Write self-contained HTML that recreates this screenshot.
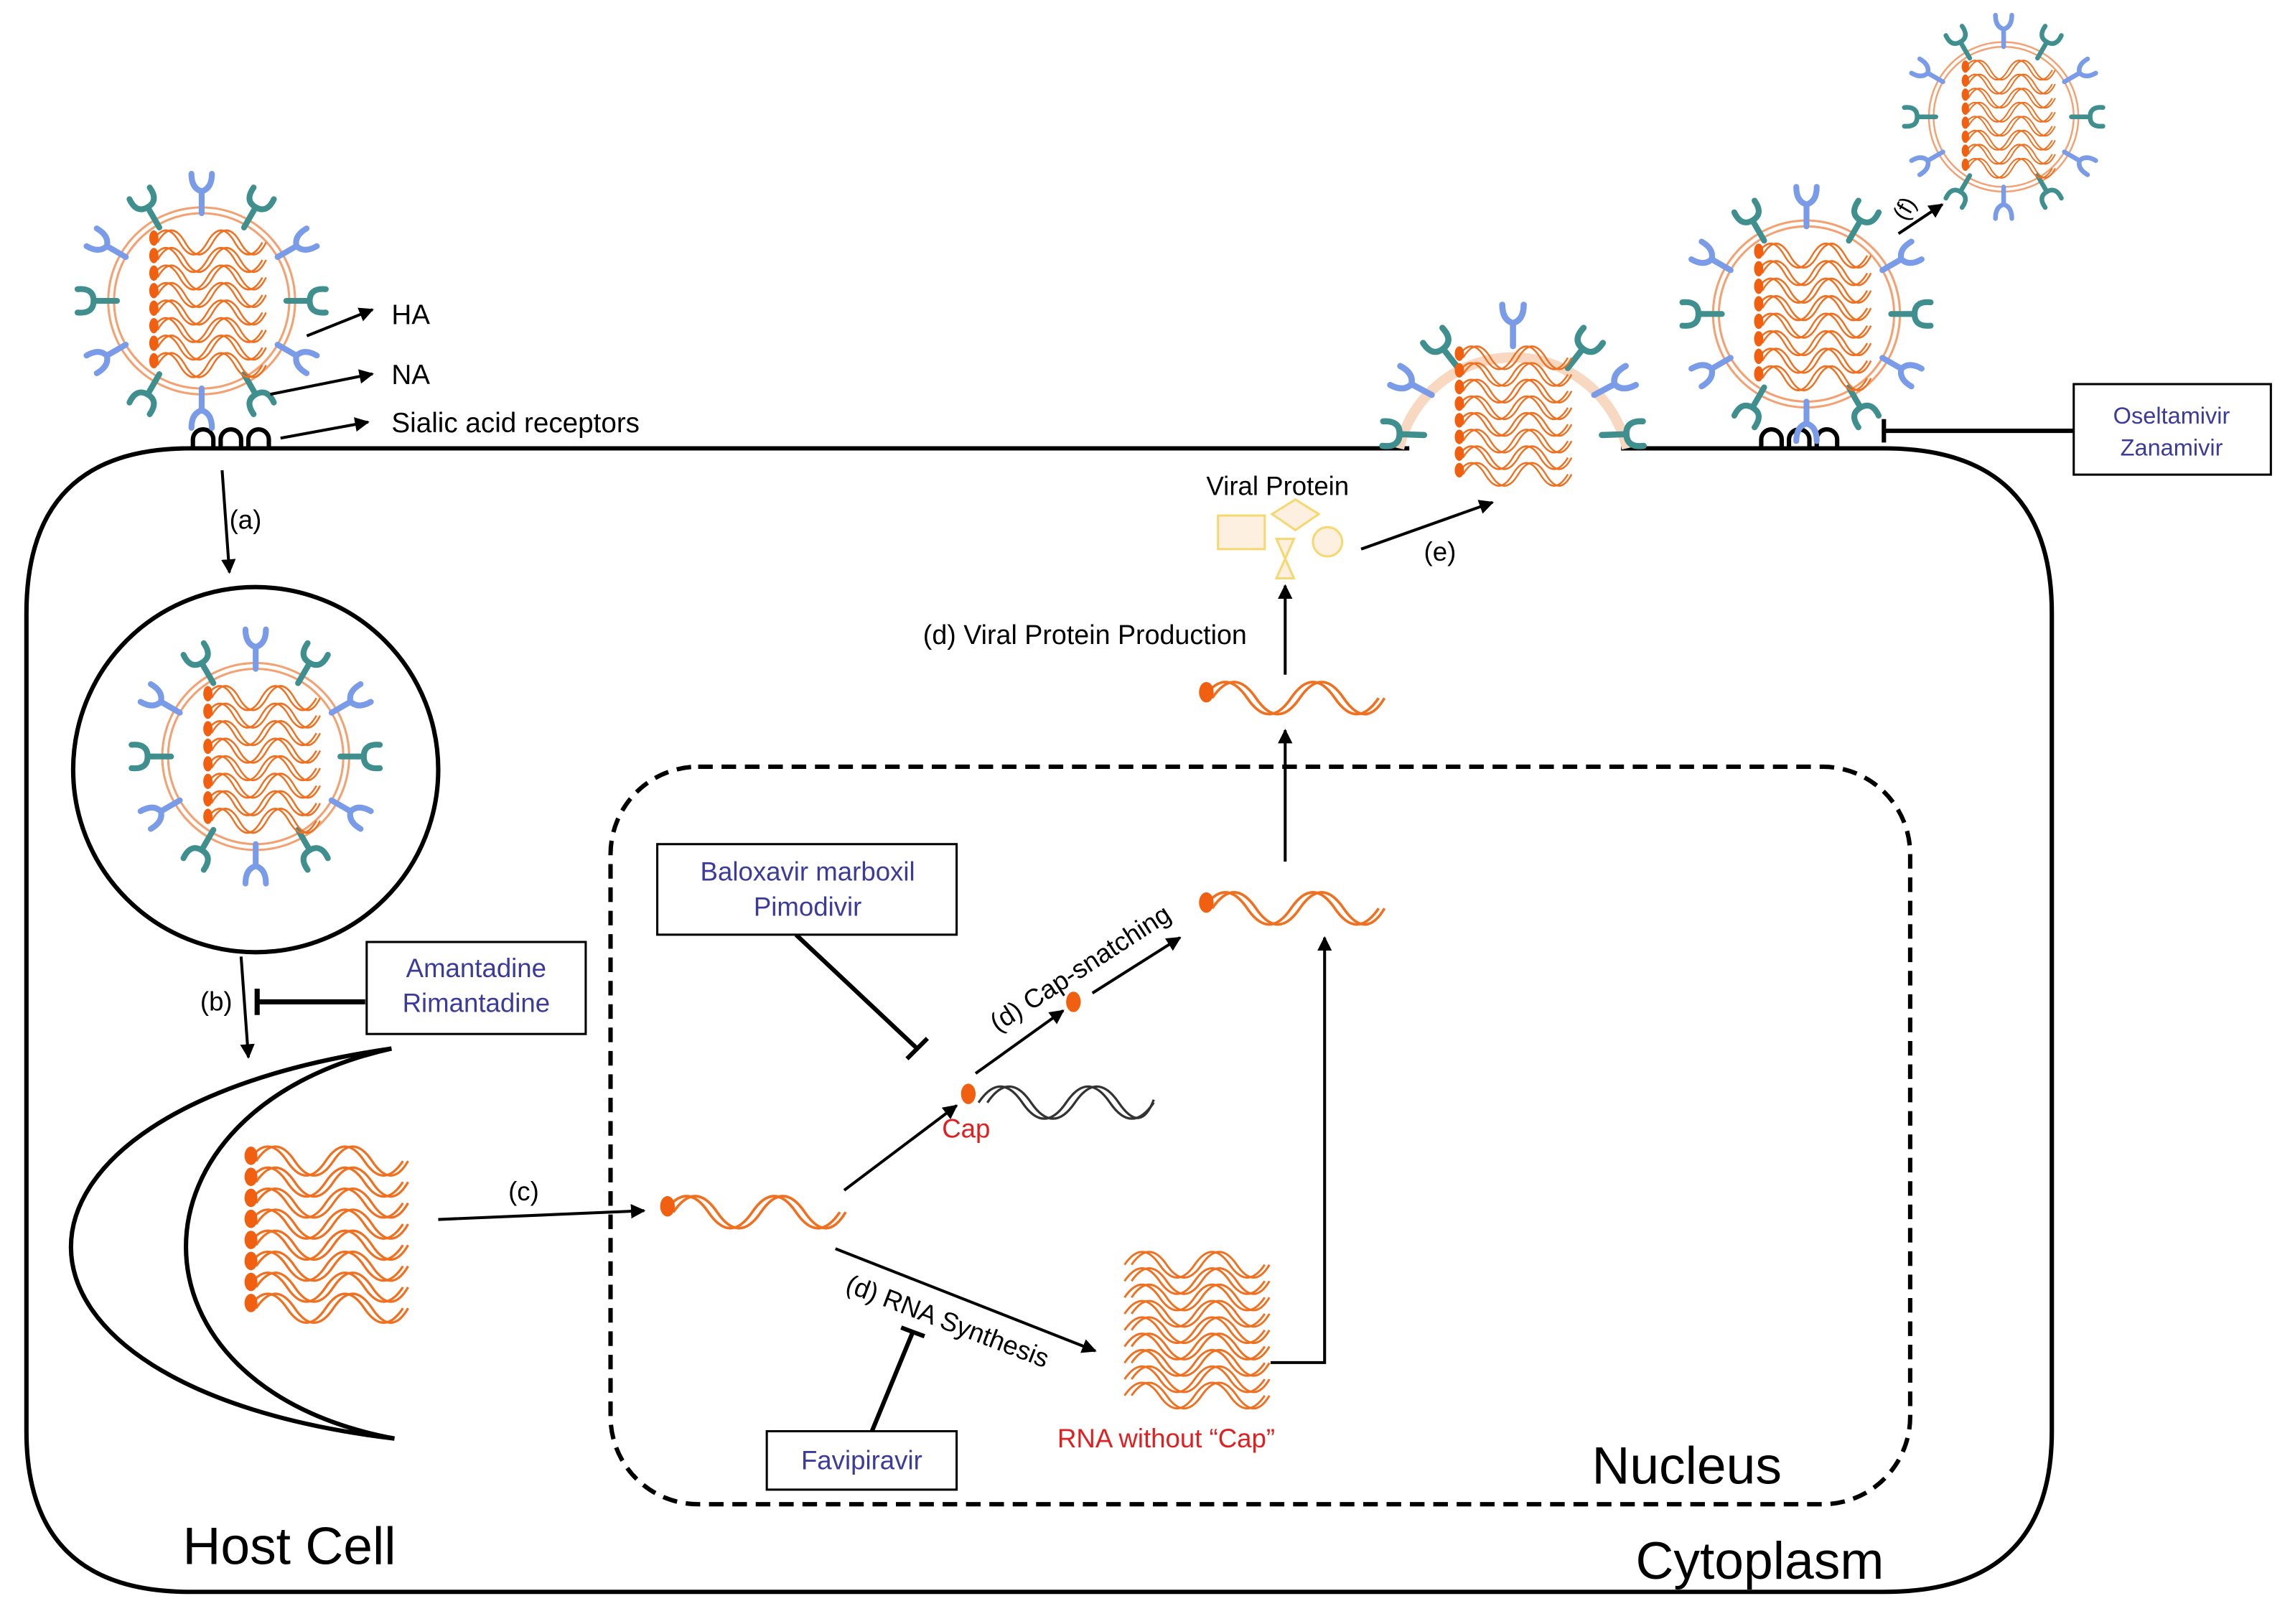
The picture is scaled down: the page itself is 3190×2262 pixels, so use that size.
<!DOCTYPE html>
<html><head><meta charset="utf-8"><style>
html,body{margin:0;padding:0;background:#fff}
svg{display:block}
text{font-family:"Liberation Sans",Arial,sans-serif}
</style></head><body>
<svg width="3190" height="2262" viewBox="0 0 1568 1112" xmlns="http://www.w3.org/2000/svg">
<defs>
<marker id="ar" markerWidth="10" markerHeight="10" refX="9" refY="5" orient="auto" markerUnits="userSpaceOnUse">
<path d="M0,0 L10,5 L0,10 z" fill="#000"/></marker>
<g id="strand" fill="none" stroke="#f07020" stroke-width="1.8">
<path d="M0 0 Q15 -22 30 0 T60 0 T90 0 T120 0"/>
<path d="M6 0 Q21 -22 36 0 T66 0 T96 0 T124 0"/>
</g>
<g id="cstrand"><use href="#strand"/><ellipse cx="2" cy="-4" rx="5" ry="7" fill="#f06010"/></g>
<g id="bundle">
<g transform="scale(0.63 0.75)">
<use href="#cstrand" y="0"/><use href="#cstrand" y="16"/><use href="#cstrand" y="32"/><use href="#cstrand" y="48"/>
<use href="#cstrand" y="64"/><use href="#cstrand" y="80"/><use href="#cstrand" y="96"/><use href="#cstrand" y="112"/>
</g></g>
<g id="tspike" stroke="#3f8f8f" stroke-width="4" fill="none" stroke-linecap="round">
<line x1="0" y1="-58" x2="0" y2="-74"/><path d="M-8,-85 Q-9,-74 0,-74 Q9,-74 8,-85"/></g>
<g id="bspike" stroke="#7a9be8" stroke-width="4" fill="none" stroke-linecap="round">
<line x1="0" y1="-60" x2="0" y2="-75"/><path d="M-7,-87 Q-7,-77 0,-75 Q7,-77 7,-87"/></g>
<g id="virus">
<circle r="60" fill="none" stroke="#f4a070" stroke-width="1.5"/>
<circle r="64" fill="none" stroke="#f4a070" stroke-width="1.5"/>
<use href="#bspike"/><use href="#tspike" transform="rotate(30)"/><use href="#bspike" transform="rotate(60)"/>
<use href="#tspike" transform="rotate(90)"/><use href="#bspike" transform="rotate(120)"/><use href="#tspike" transform="rotate(150)"/>
<use href="#bspike" transform="rotate(180)"/><use href="#tspike" transform="rotate(210)"/><use href="#bspike" transform="rotate(240)"/>
<use href="#tspike" transform="rotate(270)"/><use href="#bspike" transform="rotate(300)"/><use href="#tspike" transform="rotate(330)"/>
<use href="#bundle" x="-34" y="-40"/>
</g>
</defs>

<path d="M965 307 L130 307 Q18 307 18 420 L18 980 Q18 1090 130 1090 L1290 1090 Q1405 1090 1405 980 L1405 420 Q1405 307 1290 307 L1110 307" fill="none" stroke="#000" stroke-width="3"/>
<g fill="none" stroke="#000" stroke-width="3">
<path d="M132 307 v-6 a7 7 0 0 1 14 0 v6 M151 307 v-6 a7 7 0 0 1 14 0 v6 M170 307 v-6 a7 7 0 0 1 14 0 v6"/>
<path d="M1206 307 v-6 a7 7 0 0 1 14 0 v6 M1225 307 v-6 a7 7 0 0 1 14 0 v6 M1244 307 v-6 a7 7 0 0 1 14 0 v6"/>
</g>
<use href="#virus" x="138" y="206"/>
<g stroke="#000" stroke-width="2" marker-end="url(#ar)">
<line x1="210" y1="230" x2="255" y2="212"/>
<line x1="185" y1="270" x2="255" y2="256"/>
<line x1="192" y1="300" x2="252" y2="289"/>
</g>
<text x="268" y="222" font-size="19">HA</text>
<text x="268" y="263" font-size="19">NA</text>
<text x="268" y="296" font-size="19">Sialic acid receptors</text>

<line x1="152" y1="322" x2="157" y2="392" stroke="#000" stroke-width="2" marker-end="url(#ar)"/>
<text x="157" y="362" font-size="18">(a)</text>
<circle cx="175" cy="527" r="125" fill="none" stroke="#000" stroke-width="3"/>
<use href="#virus" x="175" y="518"/>

<line x1="165" y1="655" x2="170" y2="724" stroke="#000" stroke-width="2" marker-end="url(#ar)"/>
<text x="137" y="692" font-size="18">(b)</text>
<line x1="250" y1="686" x2="176" y2="686" stroke="#000" stroke-width="3.5"/>
<line x1="176" y1="677" x2="176" y2="695" stroke="#000" stroke-width="3.5"/>
<rect x="251" y="645" width="150" height="63" fill="#fff" stroke="#000" stroke-width="1.5"/>
<text x="326" y="669" font-size="18" fill="#3b3b9b" text-anchor="middle">Amantadine</text>
<text x="326" y="693" font-size="18" fill="#3b3b9b" text-anchor="middle">Rimantadine</text>

<path d="M268 718 C-25 760 -25 950 270 985 C80 950 80 760 268 718 z" fill="none" stroke="#000" stroke-width="3"/>
<use href="#bundle" x="170" y="795" transform="translate(170 795) scale(1.4 1.2) translate(-170 -795)"/>

<line x1="300" y1="835" x2="441" y2="829" stroke="#000" stroke-width="2" marker-end="url(#ar)"/>
<text x="348" y="822" font-size="18">(c)</text>

<rect x="418" y="525" width="890" height="505" rx="60" fill="none" stroke="#000" stroke-width="3" stroke-dasharray="10 6"/>
<text x="1090" y="1016" font-size="36">Nucleus</text>
<text x="125" y="1071" font-size="36">Host Cell</text>
<text x="1120" y="1081" font-size="36">Cytoplasm</text>

<use href="#cstrand" x="455" y="830"/>
<line x1="578" y1="815" x2="655" y2="757" stroke="#000" stroke-width="2" marker-end="url(#ar)"/>
<ellipse cx="663" cy="749" rx="5" ry="7" fill="#f06010"/>
<g fill="none" stroke="#333" stroke-width="1.6">
<path d="M670 755 Q685 733 700 755 T730 755 T760 755 T790 755"/>
<path d="M676 755 Q691 733 706 755 T736 755 T766 755 T790 753"/>
</g>
<text x="645" y="779" font-size="18" fill="#e02020">Cap</text>
<line x1="668" y1="735" x2="728" y2="692" stroke="#000" stroke-width="2" marker-end="url(#ar)"/>
<ellipse cx="735" cy="686" rx="5" ry="7" fill="#f06010"/>
<line x1="748" y1="680" x2="808" y2="642" stroke="#000" stroke-width="2" marker-end="url(#ar)"/>
<text x="0" y="0" font-size="18" transform="translate(683 707) rotate(-33)">(d) Cap-snatching</text>

<use href="#cstrand" x="824" y="622"/>
<line x1="880" y1="590" x2="880" y2="500" stroke="#000" stroke-width="2" marker-end="url(#ar)"/>
<use href="#cstrand" x="824" y="478"/>
<line x1="880" y1="462" x2="880" y2="401" stroke="#000" stroke-width="2" marker-end="url(#ar)"/>
<text x="632" y="441" font-size="18.5">(d) Viral Protein Production</text>

<text x="826" y="339" font-size="18">Viral Protein</text>
<g fill="#fdf0e0" stroke="#f5d870" stroke-width="1.5">
<rect x="834" y="353" width="32" height="23"/>
<path d="M871 352 L887 342 L903 352 L887 363 z"/>
<path d="M874 369 L886 369 L874 396 L886 396 z"/>
<circle cx="909" cy="371" r="10"/>
</g>
<line x1="932" y1="376" x2="1022" y2="344" stroke="#000" stroke-width="2" marker-end="url(#ar)"/>
<text x="975" y="384" font-size="18">(e)</text>

<path d="M958 307 A80 80 0 0 1 1114 307" fill="none" stroke="#f8d8c0" stroke-width="7"/>
<g transform="translate(1036 300) scale(1.05)">
<use href="#tspike" transform="rotate(-38)"/><use href="#bspike" transform="rotate(0)"/><use href="#tspike" transform="rotate(38)"/>
<use href="#bspike" transform="rotate(-62)"/><use href="#bspike" transform="rotate(62)"/>
<use href="#tspike" transform="rotate(-88)"/><use href="#tspike" transform="rotate(88)"/>
</g>
<use href="#bundle" x="998" y="245" transform="translate(998 245) scale(1.0 0.95) translate(-998 -245)"/>

<use href="#virus" x="1237" y="215"/>
<line x1="1300" y1="160" x2="1330" y2="140" stroke="#000" stroke-width="2" marker-end="url(#ar)"/>
<text x="0" y="0" font-size="16" transform="translate(1305 152) rotate(-60)">(f)</text>
<use href="#virus" x="1372" y="80" transform="translate(1372 80) scale(0.8) translate(-1372 -80)"/>

<line x1="1420" y1="295" x2="1290" y2="295" stroke="#000" stroke-width="3"/>
<line x1="1290" y1="287" x2="1290" y2="303" stroke="#000" stroke-width="3"/>
<rect x="1420" y="263" width="135" height="62" fill="#fff" stroke="#000" stroke-width="1.5"/>
<text x="1487" y="290" font-size="16" fill="#3b3b9b" text-anchor="middle">Oseltamivir</text>
<text x="1487" y="312" font-size="16" fill="#3b3b9b" text-anchor="middle">Zanamivir</text>

<line x1="545" y1="640" x2="628" y2="718" stroke="#000" stroke-width="3"/>
<line x1="621" y1="725" x2="635" y2="711" stroke="#000" stroke-width="3"/>
<rect x="450" y="578" width="205" height="62" fill="#fff" stroke="#000" stroke-width="1.5"/>
<text x="553" y="603" font-size="18" fill="#3b3b9b" text-anchor="middle">Baloxavir marboxil</text>
<text x="553" y="627" font-size="18" fill="#3b3b9b" text-anchor="middle">Pimodivir</text>

<line x1="572" y1="855" x2="750" y2="925" stroke="#000" stroke-width="2" marker-end="url(#ar)"/>
<text x="0" y="0" font-size="18" transform="translate(578 884) rotate(21)">(d) RNA Synthesis</text>
<line x1="597" y1="980" x2="625" y2="912" stroke="#000" stroke-width="3"/>
<line x1="617" y1="909" x2="633" y2="915" stroke="#000" stroke-width="3"/>
<rect x="525" y="980" width="130" height="40" fill="#fff" stroke="#000" stroke-width="1.5"/>
<text x="590" y="1006" font-size="18" fill="#3b3b9b" text-anchor="middle">Favipiravir</text>

<g transform="translate(770 866) scale(0.8)">
<use href="#strand" y="0"/>
<use href="#strand" y="14"/><use href="#strand" y="28"/><use href="#strand" y="42"/><use href="#strand" y="56"/>
<use href="#strand" y="70"/><use href="#strand" y="84"/><use href="#strand" y="98"/><use href="#strand" y="112"/>
</g>
<text x="724" y="991" font-size="18" fill="#e02020">RNA without “Cap”</text>
<path d="M870 933 L907 933 L907 642" fill="none" stroke="#000" stroke-width="2" marker-end="url(#ar)"/>
</svg>
</body></html>
